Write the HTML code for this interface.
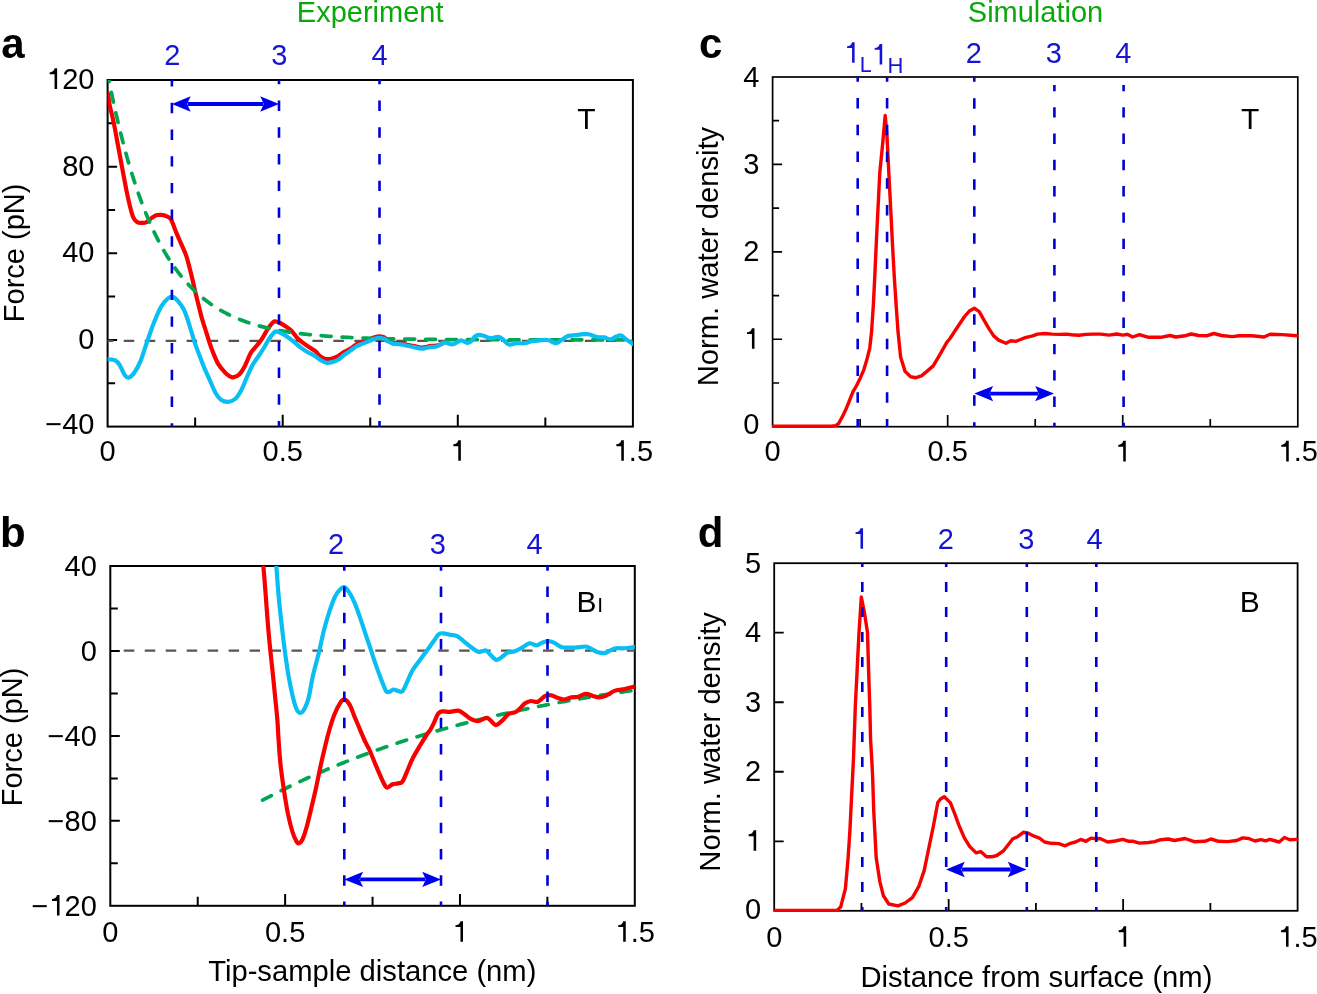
<!DOCTYPE html><html><head><meta charset="utf-8"><style>html,body{margin:0;padding:0;background:#fff;overflow:hidden}svg{display:block;will-change:transform}</style></head><body>
<svg width="1317" height="994" viewBox="0 0 1317 994" font-family='"Liberation Sans", sans-serif'>
<rect width="1317" height="994" fill="#fff"/>
<defs>
<clipPath id="clipa"><rect x="107.6" y="80" width="525.3" height="346.6"/></clipPath>
<clipPath id="clipb"><rect x="110.3" y="566" width="524.5" height="339.8"/></clipPath>
<clipPath id="clipc"><rect x="772.6" y="77" width="525.2" height="349.7"/></clipPath>
<clipPath id="clipd"><rect x="774.2" y="563.2" width="523.4" height="347.6"/></clipPath>
</defs>
<text x="370.2" y="21.7" font-size="29" fill="#0aa80a" text-anchor="middle">Experiment</text>
<text x="1035.5" y="21.6" font-size="29" fill="#0aa80a" text-anchor="middle">Simulation</text>
<g font-size="42" font-weight="bold" fill="#000">
<text x="1.2" y="57.6">a</text>
<text x="0" y="547.4">b</text>
<text x="699.1" y="57.7">c</text>
<text x="697.8" y="547.4">d</text>
</g>
<path d="M282.7,426.6V414.8 M457.8,426.6V414.8 M195.15,426.6V417.6 M370.25,426.6V417.6 M545.35,426.6V417.6 M107.6,339.95H117.1 M107.6,253.3H117.1 M107.6,166.65H117.1 M107.6,383.28H115.1 M107.6,296.62H115.1 M107.6,209.98H115.1 M107.6,123.32H115.1" stroke="#000" stroke-width="2.0" fill="none"/>
<rect x="107.6" y="80" width="525.3" height="346.6" stroke="#000" stroke-width="2.0" fill="none"/>
<g font-size="29" fill="#000">
<text x="45.21" y="434.05">−40</text>
<text x="78.27" y="348.85">0</text>
<text x="62.14" y="262.2">40</text>
<text x="62.14" y="175.55">80</text>
<text x="46.01" y="88.9"> 20</text>
<path d="M383 0L295 0L295 505L124 505L124 569C214 574 272 606 297 709L383 709Z" transform="translate(46.01,88.9) scale(0.0290,-0.0290)"/>
<text x="99.54" y="460.8">0</text>
<text x="262.54" y="460.8">0.5</text>
<path d="M383 0L295 0L295 505L124 505L124 569C214 574 272 606 297 709L383 709Z" transform="translate(449.74,460.8) scale(0.0290,-0.0290)"/>
<text x="612.74" y="460.8"> .5</text>
<path d="M383 0L295 0L295 505L124 505L124 569C214 574 272 606 297 709L383 709Z" transform="translate(612.74,460.8) scale(0.0290,-0.0290)"/>
</g>
<path d="M285.13,905.8V894 M459.97,905.8V894 M197.72,905.8V896.8 M372.55,905.8V896.8 M547.38,905.8V896.8 M110.3,820.85H119.8 M110.3,735.9H119.8 M110.3,650.95H119.8 M110.3,863.32H117.8 M110.3,778.38H117.8 M110.3,693.42H117.8 M110.3,608.48H117.8" stroke="#000" stroke-width="2.0" fill="none"/>
<rect x="110.3" y="566" width="524.5" height="339.8" stroke="#000" stroke-width="2.0" fill="none"/>
<g font-size="29" fill="#000">
<text x="31.48" y="915.6">− 20</text>
<path d="M383 0L295 0L295 505L124 505L124 569C214 574 272 606 297 709L383 709Z" transform="translate(48.41,915.6) scale(0.0290,-0.0290)"/>
<text x="47.61" y="830.65">−80</text>
<text x="47.61" y="745.7">−40</text>
<text x="80.67" y="660.75">0</text>
<text x="64.54" y="575.8">40</text>
<text x="102.24" y="941.7">0</text>
<text x="264.98" y="941.7">0.5</text>
<path d="M383 0L295 0L295 505L124 505L124 569C214 574 272 606 297 709L383 709Z" transform="translate(451.9,941.7) scale(0.0290,-0.0290)"/>
<text x="614.64" y="941.7"> .5</text>
<path d="M383 0L295 0L295 505L124 505L124 569C214 574 272 606 297 709L383 709Z" transform="translate(614.64,941.7) scale(0.0290,-0.0290)"/>
</g>
<path d="M947.67,426.7V414.9 M1122.73,426.7V414.9 M860.13,426.7V418.9 M1035.2,426.7V418.9 M1210.27,426.7V418.9 M772.6,339.27H782.1 M772.6,251.85H782.1 M772.6,164.43H782.1 M772.6,382.99H779.1 M772.6,295.56H779.1 M772.6,208.14H779.1 M772.6,120.71H779.1" stroke="#000" stroke-width="1.7" fill="none"/>
<rect x="772.6" y="77" width="525.2" height="349.7" stroke="#000" stroke-width="1.7" fill="none"/>
<g font-size="29" fill="#000">
<text x="743.37" y="434.35">0</text>
<path d="M383 0L295 0L295 505L124 505L124 569C214 574 272 606 297 709L383 709Z" transform="translate(743.37,348.77) scale(0.0290,-0.0290)"/>
<text x="743.37" y="261.35">2</text>
<text x="743.37" y="173.93">3</text>
<text x="743.37" y="86.5">4</text>
<text x="764.54" y="461.4">0</text>
<text x="927.51" y="461.4">0.5</text>
<path d="M383 0L295 0L295 505L124 505L124 569C214 574 272 606 297 709L383 709Z" transform="translate(1114.67,461.4) scale(0.0290,-0.0290)"/>
<text x="1277.64" y="461.4"> .5</text>
<path d="M383 0L295 0L295 505L124 505L124 569C214 574 272 606 297 709L383 709Z" transform="translate(1277.64,461.4) scale(0.0290,-0.0290)"/>
</g>
<path d="M948.67,910.8V899 M1123.13,910.8V899 M861.43,910.8V903 M1035.9,910.8V903 M1210.37,910.8V903 M774.2,841.28H783.7 M774.2,771.76H783.7 M774.2,702.24H783.7 M774.2,632.72H783.7" stroke="#000" stroke-width="1.8" fill="none"/>
<rect x="774.2" y="563.2" width="523.4" height="347.6" stroke="#000" stroke-width="1.8" fill="none"/>
<g font-size="29" fill="#000">
<text x="745.07" y="919.25">0</text>
<path d="M383 0L295 0L295 505L124 505L124 569C214 574 272 606 297 709L383 709Z" transform="translate(745.07,850.78) scale(0.0290,-0.0290)"/>
<text x="745.07" y="781.26">2</text>
<text x="745.07" y="711.74">3</text>
<text x="745.07" y="642.22">4</text>
<text x="745.07" y="572.7">5</text>
<text x="766.14" y="946.8">0</text>
<text x="928.51" y="946.8">0.5</text>
<path d="M383 0L295 0L295 505L124 505L124 569C214 574 272 606 297 709L383 709Z" transform="translate(1115.07,946.8) scale(0.0290,-0.0290)"/>
<text x="1277.44" y="946.8"> .5</text>
<path d="M383 0L295 0L295 505L124 505L124 569C214 574 272 606 297 709L383 709Z" transform="translate(1277.44,946.8) scale(0.0290,-0.0290)"/>
</g>
<path d="M107.6,340.8H113.3 M123.76,340.8H134.26 M144.72,340.8H155.22 M165.68,340.8H176.18 M186.64,340.8H197.14 M207.6,340.8H218.1 M228.56,340.8H239.06 M249.52,340.8H260.02 M270.48,340.8H280.98 M291.44,340.8H301.94 M312.4,340.8H322.9 M333.36,340.8H343.86 M354.32,340.8H364.82 M375.28,340.8H385.78 M396.24,340.8H406.74 M417.2,340.8H427.7 M438.16,340.8H448.66 M459.12,340.8H469.62 M480.08,340.8H490.58 M501.04,340.8H511.54 M522,340.8H532.5 M542.96,340.8H553.46 M563.92,340.8H574.42 M584.88,340.8H595.38 M605.84,340.8H616.34 M626.8,340.8H632.9" stroke="#5e524e" stroke-width="2.2" fill="none"/>
<path d="M107.8,93 C108.12,95.05 108.98,101.57 109.7,105.3 C110.42,109.03 111.3,111.83 112.1,115.4 C112.9,118.97 113.7,122.67 114.5,126.7 C115.3,130.73 116.1,135.32 116.9,139.6 C117.7,143.88 118.5,148.12 119.3,152.4 C120.1,156.68 120.9,161 121.7,165.3 C122.5,169.6 123.28,173.9 124.1,178.2 C124.92,182.5 125.65,186.53 126.6,191.1 C127.55,195.67 128.73,201.32 129.8,205.6 C130.87,209.88 131.8,214.07 133,216.8 C134.2,219.53 135.52,220.98 137,222 C138.48,223.02 140.28,222.88 141.9,222.9 C143.52,222.92 145.1,222.9 146.7,222.1 C148.3,221.3 149.9,219.25 151.5,218.1 C153.1,216.95 154.68,215.73 156.3,215.2 C157.92,214.67 159.58,214.77 161.2,214.9 C162.82,215.03 164.4,215.28 166,216 C167.6,216.72 169.07,216.38 170.8,219.2 C172.53,222.02 174.65,228.75 176.4,232.9 C178.15,237.05 179.68,240.35 181.3,244.1 C182.92,247.85 184.77,251.63 186.1,255.4 C187.43,259.17 188.23,262.67 189.3,266.7 C190.37,270.73 191.55,275.58 192.5,279.6 C193.45,283.62 194.05,286.78 195,290.8 C195.95,294.82 197.13,299.4 198.2,303.7 C199.27,308 200.2,312.3 201.4,316.6 C202.6,320.9 204.07,325.22 205.4,329.5 C206.73,333.78 208.05,338.28 209.4,342.3 C210.75,346.32 212.02,349.97 213.5,353.6 C214.98,357.23 216.43,361.02 218.3,364.1 C220.17,367.18 222.92,370.15 224.7,372.1 C226.48,374.05 227.62,374.93 229,375.8 C230.38,376.67 231.3,377.52 233,377.3 C234.7,377.08 237.22,376.4 239.2,374.5 C241.18,372.6 243,369.45 244.9,365.9 C246.8,362.35 248.72,356.48 250.6,353.2 C252.48,349.92 254.33,348.53 256.2,346.2 C258.07,343.87 259.92,342.02 261.8,339.2 C263.68,336.38 265.62,332.12 267.5,329.3 C269.38,326.48 271.7,323.6 273.1,322.3 C274.5,321 274.73,321.38 275.9,321.5 C277.07,321.62 278.45,322.17 280.1,323 C281.75,323.83 283.92,325.22 285.8,326.5 C287.68,327.78 289.53,328.83 291.4,330.7 C293.27,332.57 295.12,335.7 297,337.7 C298.88,339.7 300.58,341.05 302.7,342.7 C304.82,344.35 307.58,346.2 309.7,347.6 C311.82,349 313.68,349.68 315.4,351.1 C317.12,352.52 318.23,354.77 320,356.1 C321.77,357.43 323.97,358.7 326,359.1 C328.03,359.5 330.17,359 332.2,358.5 C334.23,358 336.18,357.2 338.2,356.1 C340.22,355 342.27,353.14 344.3,351.89 C346.33,350.64 348.37,349.86 350.4,348.6 C352.43,347.34 354.48,345.47 356.5,344.3 C358.52,343.13 360.48,342.42 362.5,341.6 C364.52,340.78 366.57,340.13 368.6,339.4 C370.63,338.67 372.98,337.72 374.7,337.2 C376.42,336.68 377.38,336.3 378.9,336.3 C380.42,336.3 382.48,336.7 383.8,337.2 C385.12,337.7 385.28,338.4 386.8,339.3 C388.32,340.2 390.52,341.92 392.9,342.6 C395.28,343.28 398.72,343.05 401.1,343.4 C403.48,343.75 405.18,344.28 407.2,344.7 C409.22,345.12 411.18,345.45 413.2,345.9 C415.22,346.35 417.78,347.1 419.3,347.4 C420.82,347.7 421.28,347.75 422.3,347.7 C423.32,347.65 423.87,347.4 425.4,347.1 C426.93,346.8 429.68,346.15 431.5,345.9 C433.32,345.65 434.78,345.85 436.3,345.6 C437.82,345.35 439.38,344.9 440.6,344.4 C441.82,343.9 443.1,342.9 443.6,342.6" stroke="#f80000" stroke-width="4.2" fill="none" stroke-linejoin="round" stroke-linecap="round" clip-path="url(#clipa)" />
<path d="M106,65.07 L107,70.36 L108,75.55 L109,80.63 L110,85.62 L111,90.52 L112,95.32 L113,100.03 L114,104.64 L115,109.17 L116,113.61 L117,117.97 L118,122.24 L119,126.43 L120,130.54 L121,134.57 L122,138.52 L123,142.4 L124,146.2 L125,149.93 L126,153.59 L127,157.17 L128,160.69 L129,164.14 L130,167.52 L131,170.84 L132,174.09 L133,177.29 L134,180.42 L135,183.49 L136,186.5 L137,189.45 L138,192.34 L139,195.19 L140,197.97 L141,200.7 L142,203.38 L143,206.01 L144,208.59 L145,211.11 L146,213.59 L147,216.02 L148,218.41 L149,220.75 L150,223.04 L151,225.29 L152,227.5 L153,229.66 L154,231.78 L155,233.86 L156,235.9 L157,237.91 L158,239.87 L159,241.8 L160,243.68 L161,245.54 L162,247.35 L163,249.13 L164,250.88 L165,252.59 L166,254.27 L167,255.92 L168,257.54 L169,259.12 L170,260.68 L171,262.2 L172,263.7 L173,265.17 L174,266.6 L175,268.02 L176,269.4 L177,270.76 L178,272.09 L179,273.39 L180,274.67 L181,275.93 L182,277.16 L183,278.37 L184,279.55 L185,280.71 L186,281.85 L187,282.97 L188,284.07 L189,285.14 L190,286.19 L191,287.23 L192,288.24 L193,289.24 L194,290.21 L195,291.17 L196,292.11 L197,293.03 L198,293.93 L199,294.81 L200,295.68 L201,296.53 L202,297.37 L203,298.19 L204,298.99 L205,299.78 L206,300.55 L207,301.31 L208,302.05 L209,302.78 L210,303.49 L211,304.19 L212,304.88 L213,305.55 L214,306.22 L215,306.86 L216,307.5 L217,308.12 L218,308.74 L219,309.33 L220,309.92 L221,310.5 L222,311.07 L223,311.62 L224,312.17 L225,312.7 L226,313.22 L227,313.74 L228,314.24 L229,314.73 L230,315.22 L231,315.69 L232,316.16 L233,316.62 L234,317.06 L235,317.5 L236,317.94 L237,318.36 L238,318.77 L239,319.18 L240,319.58 L241,319.97 L242,320.35 L243,320.73 L244,321.1 L245,321.46 L246,321.82 L247,322.16 L248,322.5 L249,322.84 L250,323.17 L251,323.49 L252,323.81 L253,324.12 L254,324.42 L255,324.72 L256,325.01 L257,325.3 L258,325.58 L259,325.85 L260,326.12 L261,326.39 L262,326.65 L263,326.9 L264,327.15 L265,327.4 L266,327.64 L267,327.88 L268,328.11 L269,328.33 L270,328.56 L271,328.78 L272,328.99 L273,329.2 L274,329.41 L275,329.61 L276,329.81 L277,330 L278,330.19 L279,330.38 L280,330.56 L281,330.74 L282,330.92 L283,331.09 L284,331.26 L285,331.43 L286,331.59 L287,331.75 L288,331.91 L289,332.06 L290,332.21 L291,332.36 L292,332.5 L293,332.65 L294,332.79 L295,332.92 L296,333.06 L297,333.19 L298,333.32 L299,333.44 L300,333.57 L301,333.69 L302,333.81 L303,333.93 L304,334.04 L305,334.15 L306,334.27 L307,334.37 L308,334.48 L309,334.58 L310,334.69 L311,334.79 L312,334.89 L313,334.98 L314,335.08 L315,335.17 L316,335.26 L317,335.35 L318,335.44 L319,335.52 L320,335.61 L321,335.69 L322,335.77 L323,335.85 L324,335.93 L325,336.01 L326,336.08 L327,336.15 L328,336.23 L329,336.3 L330,336.37 L331,336.43 L332,336.5 L333,336.57 L334,336.63 L335,336.69 L336,336.76 L337,336.82 L338,336.87 L339,336.93 L340,336.99 L341,337.05 L342,337.1 L343,337.16 L344,337.21 L345,337.26 L346,337.31 L347,337.36 L348,337.41 L349,337.46 L350,337.5 L351,337.55 L352,337.6 L353,337.64 L354,337.68 L355,337.73 L356,337.77 L357,337.81 L358,337.85 L359,337.89 L360,337.93 L361,337.97 L362,338 L363,338.04 L364,338.07 L365,338.11 L366,338.14 L367,338.18 L368,338.21 L369,338.24 L370,338.28 L371,338.31 L372,338.34 L373,338.37 L374,338.4 L375,338.43 L376,338.45 L377,338.48 L378,338.51 L379,338.54 L380,338.56 L381,338.59 L382,338.61 L383,338.64 L384,338.66 L385,338.69 L386,338.71 L387,338.73 L388,338.76 L389,338.78 L390,338.8 L391,338.82 L392,338.84 L393,338.86 L394,338.88 L395,338.9 L396,338.92 L397,338.94 L398,338.96 L399,338.98 L400,338.99 L401,339.01 L402,339.03 L403,339.04 L404,339.06 L405,339.08 L406,339.09 L407,339.11 L408,339.12 L409,339.14 L410,339.15 L411,339.17 L412,339.18 L413,339.2 L414,339.21 L415,339.22 L416,339.24 L417,339.25 L418,339.26 L419,339.27 L420,339.29 L421,339.3 L422,339.31 L423,339.32 L424,339.33 L425,339.34 L426,339.35 L427,339.36 L428,339.37 L429,339.38 L430,339.39 L431,339.4 L432,339.41 L433,339.42 L434,339.43 L435,339.44 L436,339.45 L437,339.46 L438,339.47 L439,339.48 L440,339.48 L441,339.49 L442,339.5 L443,339.51 L444,339.51 L445,339.52 L446,339.53 L447,339.54 L448,339.54 L449,339.55 L450,339.56 L451,339.56 L452,339.57 L453,339.58 L454,339.58 L455,339.59 L456,339.59 L457,339.6 L458,339.61 L459,339.61 L460,339.62 L461,339.62 L462,339.63 L463,339.63 L464,339.64 L465,339.64 L466,339.65 L467,339.65 L468,339.66 L469,339.66 L470,339.67 L471,339.67 L472,339.68 L473,339.68 L474,339.68 L475,339.69 L476,339.69 L477,339.7 L478,339.7 L479,339.7 L480,339.71 L481,339.71 L482,339.72 L483,339.72 L484,339.72 L485,339.73 L486,339.73 L487,339.73 L488,339.74 L489,339.74 L490,339.74 L491,339.75 L492,339.75 L493,339.75 L494,339.75 L495,339.76 L496,339.76 L497,339.76 L498,339.77 L499,339.77 L500,339.77 L501,339.77 L502,339.78 L503,339.78 L504,339.78 L505,339.78 L506,339.78 L507,339.79 L508,339.79 L509,339.79 L510,339.79 L511,339.8 L512,339.8 L513,339.8 L514,339.8 L515,339.8 L516,339.8 L517,339.81 L518,339.81 L519,339.81 L520,339.81 L521,339.81 L522,339.82 L523,339.82 L524,339.82 L525,339.82 L526,339.82 L527,339.82 L528,339.82 L529,339.83 L530,339.83 L531,339.83 L532,339.83 L533,339.83 L534,339.83 L535,339.83 L536,339.84 L537,339.84 L538,339.84 L539,339.84 L540,339.84 L541,339.84 L542,339.84 L543,339.84 L544,339.84 L545,339.85 L546,339.85 L547,339.85 L548,339.85 L549,339.85 L550,339.85 L551,339.85 L552,339.85 L553,339.85 L554,339.85 L555,339.86 L556,339.86 L557,339.86 L558,339.86 L559,339.86 L560,339.86 L561,339.86 L562,339.86 L563,339.86 L564,339.86 L565,339.86 L566,339.86 L567,339.86 L568,339.87 L569,339.87 L570,339.87 L571,339.87 L572,339.87 L573,339.87 L574,339.87 L575,339.87 L576,339.87 L577,339.87 L578,339.87 L579,339.87 L580,339.87 L581,339.87 L582,339.87 L583,339.87 L584,339.87 L585,339.88 L586,339.88 L587,339.88 L588,339.88 L589,339.88 L590,339.88 L591,339.88 L592,339.88 L593,339.88 L594,339.88 L595,339.88 L596,339.88 L597,339.88 L598,339.88 L599,339.88 L600,339.88 L601,339.88 L602,339.88 L603,339.88 L604,339.88 L605,339.88 L606,339.88 L607,339.88 L608,339.88 L609,339.88 L610,339.88 L611,339.88 L612,339.89 L613,339.89 L614,339.89 L615,339.89 L616,339.89 L617,339.89 L618,339.89 L619,339.89 L620,339.89 L621,339.89 L622,339.89 L623,339.89 L624,339.89 L625,339.89 L626,339.89 L627,339.89 L628,339.89 L629,339.89 L630,339.89 L631,339.89 L632,339.89 L633,339.89 L634,339.89" stroke="#00a651" stroke-width="3.7" fill="none" stroke-dasharray="9.9 11" stroke-dashoffset="13.96" stroke-linecap="round" stroke-linejoin="round" clip-path="url(#clipa)"/>
<path d="M107,359.1 C108.38,359.32 113.12,359.28 115.3,360.4 C117.48,361.52 118.5,363.32 120.1,365.8 C121.7,368.28 123.47,373.33 124.9,375.3 C126.33,377.27 127.12,378.08 128.7,377.6 C130.28,377.12 132.48,375.02 134.4,372.4 C136.32,369.78 138.13,366.83 140.2,361.9 C142.27,356.97 144.58,349.17 146.8,342.8 C149.02,336.43 151.1,329.75 153.5,323.7 C155.9,317.65 158.8,310.7 161.2,306.5 C163.6,302.3 165.98,300.1 167.9,298.5 C169.82,296.9 171.02,296.45 172.7,296.9 C174.38,297.35 176.17,299.13 178,301.2 C179.83,303.27 182.08,306.2 183.7,309.3 C185.32,312.4 186.37,315.9 187.7,319.8 C189.03,323.7 190.35,328.4 191.7,332.7 C193.05,337 194.32,341.32 195.8,345.6 C197.28,349.88 199.07,354.42 200.6,358.4 C202.13,362.38 203.48,365.9 205,369.5 C206.52,373.1 207.97,376.13 209.7,380 C211.43,383.87 213.52,389.42 215.4,392.7 C217.28,395.98 218.9,398.18 221,399.7 C223.1,401.22 225.65,401.92 228,401.8 C230.35,401.68 232.98,400.75 235.1,399 C237.22,397.25 238.83,394.7 240.7,391.3 C242.57,387.9 244.42,382.83 246.3,378.6 C248.18,374.37 250.12,369.42 252,365.9 C253.88,362.38 255.73,360.32 257.6,357.5 C259.47,354.68 261.32,352.05 263.2,349 C265.08,345.95 267.02,342.02 268.9,339.2 C270.78,336.38 273.1,333.33 274.5,332.1 C275.9,330.87 275.88,331.45 277.3,331.8 C278.72,332.15 281.12,333.22 283,334.2 C284.88,335.18 286.73,336.4 288.6,337.7 C290.47,339 292.32,340.47 294.2,342 C296.08,343.53 297.78,345.27 299.9,346.9 C302.02,348.53 304.55,350.38 306.9,351.8 C309.25,353.22 311.82,354.08 314,355.4 C316.18,356.72 318,358.48 320,359.7 C322,360.92 323.97,362.3 326,362.7 C328.03,363.1 330.17,362.6 332.2,362.1 C334.23,361.6 336.18,360.92 338.2,359.7 C340.22,358.48 342.27,356.32 344.3,354.8 C346.33,353.28 348.37,352.02 350.4,350.6 C352.43,349.18 354.48,347.47 356.5,346.3 C358.52,345.13 360.48,344.42 362.5,343.6 C364.52,342.78 366.57,342.22 368.6,341.4 C370.63,340.58 372.98,339.3 374.7,338.7 C376.42,338.1 377.38,337.8 378.9,337.8 C380.42,337.8 382.48,338.2 383.8,338.7 C385.12,339.2 385.28,339.98 386.8,340.8 C388.32,341.62 390.52,343 392.9,343.6 C395.28,344.2 398.72,344.05 401.1,344.4 C403.48,344.75 405.18,345.28 407.2,345.7 C409.22,346.12 411.18,346.45 413.2,346.9 C415.22,347.35 417.78,348.1 419.3,348.4 C420.82,348.7 421.28,348.75 422.3,348.7 C423.32,348.65 423.87,348.4 425.4,348.1 C426.93,347.8 429.68,347.15 431.5,346.9 C433.32,346.65 434.78,347.02 436.3,346.6 C437.82,346.18 439.38,345.07 440.6,344.4 C441.82,343.73 442.6,342.85 443.6,342.6 C444.6,342.35 445.08,342.6 446.6,342.9 C448.12,343.2 450.67,344.65 452.7,344.4 C454.73,344.15 457.28,342.05 458.8,341.4 C460.32,340.75 460.28,340.25 461.8,340.5 C463.32,340.75 466.17,342.95 467.9,342.9 C469.63,342.85 471.02,341.27 472.2,340.2 C473.38,339.13 473.87,337.4 475,336.5 C476.13,335.6 477.47,334.87 479,334.8 C480.53,334.73 482.27,335.55 484.2,336.1 C486.13,336.65 488.23,337.98 490.6,338.1 C492.97,338.22 496.25,336.48 498.4,336.8 C500.55,337.12 501.78,338.72 503.5,340 C505.22,341.28 506.53,343.97 508.7,344.5 C510.87,345.03 513.92,343.42 516.5,343.2 C519.08,342.98 521.63,343.52 524.2,343.2 C526.77,342.88 529.32,341.78 531.9,341.3 C534.48,340.82 537.12,340.52 539.7,340.3 C542.28,340.08 545.25,339.73 547.4,340 C549.55,340.27 551.08,341.37 552.6,341.9 C554.12,342.43 555,343.52 556.5,343.2 C558,342.88 559.67,341.18 561.6,340 C563.53,338.82 565.73,336.92 568.1,336.1 C570.47,335.28 573.23,335.42 575.8,335.1 C578.37,334.78 581.35,334.35 583.5,334.2 C585.65,334.05 586.97,333.88 588.7,334.2 C590.43,334.52 592.18,335.57 593.9,336.1 C595.62,336.63 597.28,337.18 599,337.4 C600.72,337.62 602.27,337.07 604.2,337.4 C606.13,337.73 608.67,339.5 610.6,339.4 C612.53,339.3 614.07,337.45 615.8,336.8 C617.53,336.15 619.28,335.07 621,335.5 C622.72,335.93 624.02,337.93 626.1,339.4 C628.18,340.87 632.27,343.48 633.5,344.3" stroke="#08bef2" stroke-width="4.2" fill="none" stroke-linejoin="round" stroke-linecap="round" clip-path="url(#clipa)" />
<path d="M123.8,650.6H134.3 M144.76,650.6H155.26 M165.72,650.6H176.22 M186.68,650.6H197.18 M207.64,650.6H218.14 M228.6,650.6H239.1 M249.56,650.6H260.06 M270.52,650.6H281.02 M291.48,650.6H301.98 M312.44,650.6H322.94 M333.4,650.6H343.9 M354.36,650.6H364.86 M375.32,650.6H385.82 M396.28,650.6H406.78 M417.24,650.6H427.74 M438.2,650.6H448.7 M459.16,650.6H469.66 M480.12,650.6H490.62 M501.08,650.6H511.58 M522.04,650.6H532.54 M543,650.6H553.5 M563.96,650.6H574.46 M584.92,650.6H595.42 M605.88,650.6H616.38 M626.84,650.6H634.8" stroke="#5e524e" stroke-width="2.2" fill="none"/>
<path d="M261.5,800.81 L263.5,799.74 L265.5,798.68 L267.5,797.63 L269.5,796.58 L271.5,795.54 L273.5,794.51 L275.5,793.48 L277.5,792.47 L279.5,791.46 L281.5,790.46 L283.5,789.46 L285.5,788.47 L287.5,787.49 L289.5,786.52 L291.5,785.55 L293.5,784.59 L295.5,783.63 L297.5,782.69 L299.5,781.75 L301.5,780.81 L303.5,779.89 L305.5,778.97 L307.5,778.05 L309.5,777.15 L311.5,776.25 L313.5,775.35 L315.5,774.46 L317.5,773.58 L319.5,772.71 L321.5,771.84 L323.5,770.97 L325.5,770.12 L327.5,769.27 L329.5,768.42 L331.5,767.58 L333.5,766.75 L335.5,765.92 L337.5,765.1 L339.5,764.29 L341.5,763.48 L343.5,762.68 L345.5,761.88 L347.5,761.09 L349.5,760.3 L351.5,759.52 L353.5,758.74 L355.5,757.97 L357.5,757.21 L359.5,756.45 L361.5,755.7 L363.5,754.95 L365.5,754.21 L367.5,753.47 L369.5,752.74 L371.5,752.01 L373.5,751.29 L375.5,750.57 L377.5,749.86 L379.5,749.15 L381.5,748.45 L383.5,747.76 L385.5,747.07 L387.5,746.38 L389.5,745.7 L391.5,745.02 L393.5,744.35 L395.5,743.68 L397.5,743.02 L399.5,742.36 L401.5,741.71 L403.5,741.06 L405.5,740.42 L407.5,739.78 L409.5,739.14 L411.5,738.51 L413.5,737.89 L415.5,737.26 L417.5,736.65 L419.5,736.03 L421.5,735.43 L423.5,734.82 L425.5,734.22 L427.5,733.63 L429.5,733.04 L431.5,732.45 L433.5,731.87 L435.5,731.29 L437.5,730.72 L439.5,730.15 L441.5,729.58 L443.5,729.02 L445.5,728.46 L447.5,727.9 L449.5,727.35 L451.5,726.81 L453.5,726.27 L455.5,725.73 L457.5,725.19 L459.5,724.66 L461.5,724.13 L463.5,723.61 L465.5,723.09 L467.5,722.58 L469.5,722.06 L471.5,721.55 L473.5,721.05 L475.5,720.55 L477.5,720.05 L479.5,719.56 L481.5,719.07 L483.5,718.58 L485.5,718.09 L487.5,717.61 L489.5,717.14 L491.5,716.66 L493.5,716.19 L495.5,715.73 L497.5,715.26 L499.5,714.8 L501.5,714.35 L503.5,713.89 L505.5,713.44 L507.5,712.99 L509.5,712.55 L511.5,712.11 L513.5,711.67 L515.5,711.24 L517.5,710.8 L519.5,710.38 L521.5,709.95 L523.5,709.53 L525.5,709.11 L527.5,708.69 L529.5,708.28 L531.5,707.87 L533.5,707.46 L535.5,707.06 L537.5,706.65 L539.5,706.26 L541.5,705.86 L543.5,705.47 L545.5,705.08 L547.5,704.69 L549.5,704.3 L551.5,703.92 L553.5,703.54 L555.5,703.16 L557.5,702.79 L559.5,702.42 L561.5,702.05 L563.5,701.68 L565.5,701.32 L567.5,700.96 L569.5,700.6 L571.5,700.24 L573.5,699.89 L575.5,699.54 L577.5,699.19 L579.5,698.85 L581.5,698.5 L583.5,698.16 L585.5,697.82 L587.5,697.49 L589.5,697.15 L591.5,696.82 L593.5,696.49 L595.5,696.17 L597.5,695.84 L599.5,695.52 L601.5,695.2 L603.5,694.88 L605.5,694.57 L607.5,694.26 L609.5,693.94 L611.5,693.64 L613.5,693.33 L615.5,693.03 L617.5,692.72 L619.5,692.42 L621.5,692.13 L623.5,691.83 L625.5,691.54 L627.5,691.25 L629.5,690.96 L631.5,690.67 L633.5,690.38 L635.5,690.1" stroke="#00a651" stroke-width="3.7" fill="none" stroke-dasharray="9.9 11" stroke-dashoffset="19.66" stroke-linecap="round" stroke-linejoin="round" clip-path="url(#clipb)"/>
<path d="M262.4,555 C262.57,556.9 262.88,560.2 263.4,566.4 C263.92,572.6 264.75,582.55 265.5,592.2 C266.25,601.85 267.1,614.65 267.9,624.3 C268.7,633.95 269.5,642.05 270.3,650.1 C271.1,658.15 271.9,664.83 272.7,672.6 C273.5,680.37 274.33,688.97 275.1,696.7 C275.87,704.43 276.72,711.78 277.3,719 C277.88,726.22 278.07,732.43 278.6,740 C279.13,747.57 279.65,756.32 280.5,764.4 C281.35,772.48 282.5,780.47 283.7,788.5 C284.9,796.53 286.23,805.35 287.7,812.6 C289.17,819.85 291.02,827.17 292.5,832 C293.98,836.83 295.52,839.73 296.6,841.6 C297.68,843.47 298.07,843.47 299,843.2 C299.93,842.93 301,842.42 302.2,840 C303.4,837.58 304.73,833.8 306.2,828.7 C307.67,823.6 309.38,816.1 311,809.4 C312.62,802.7 314.42,795.2 315.9,788.5 C317.38,781.8 318.57,775.37 319.9,769.2 C321.23,763.03 322.43,757.67 323.9,751.5 C325.37,745.33 326.95,738.37 328.7,732.2 C330.45,726.03 332.45,719.43 334.4,714.5 C336.35,709.57 338.72,705.12 340.4,702.6 C342.08,700.08 342.95,699.02 344.5,699.4 C346.05,699.78 348.03,702.03 349.7,704.9 C351.37,707.77 352.8,712.53 354.5,716.6 C356.2,720.67 358.1,725.08 359.9,729.3 C361.7,733.52 363.7,738.45 365.3,741.9 C366.9,745.35 367.68,745.95 369.5,750 C371.32,754.05 373.88,760.78 376.2,766.2 C378.52,771.62 381.58,778.93 383.4,782.5 C385.22,786.07 385.58,787.3 387.1,787.6 C388.62,787.9 390.7,785 392.5,784.3 C394.3,783.6 396.25,783.85 397.9,783.4 C399.55,782.95 400.88,783.57 402.4,781.6 C403.92,779.63 405.33,775.37 407,771.6 C408.67,767.83 410.3,763.22 412.4,759 C414.5,754.78 417.18,750.38 419.6,746.3 C422.02,742.22 425.08,737.3 426.9,734.5 C428.72,731.7 429.32,731.47 430.5,729.5 C431.68,727.53 432.73,725.32 434,722.7 C435.27,720.08 436.75,715.68 438.1,713.8 C439.45,711.92 440.1,711.73 442.1,711.4 C444.1,711.07 447.42,711.93 450.1,711.8 C452.78,711.67 455.92,710.27 458.2,710.6 C460.48,710.93 461.78,712.47 463.8,713.8 C465.82,715.13 467.88,717.38 470.3,718.6 C472.72,719.82 475.62,721.23 478.3,721.1 C480.98,720.97 484.38,717.93 486.4,717.8 C488.42,717.67 488.8,719.08 490.4,720.3 C492,721.52 493.98,725.1 496,725.1 C498.02,725.1 500.35,722.18 502.5,720.3 C504.65,718.42 506.77,715.15 508.9,713.8 C511.03,712.45 513.42,713.13 515.3,712.2 C517.18,711.27 518.58,709.68 520.2,708.2 C521.82,706.72 523.23,704.5 525,703.3 C526.77,702.1 528.63,701.27 530.8,701 C532.97,700.73 535.6,702.55 538,701.7 C540.4,700.85 543.03,696.98 545.2,695.9 C547.37,694.82 548.83,694.83 551,695.2 C553.17,695.57 556.03,697.38 558.2,698.1 C560.37,698.82 561.83,699.62 564,699.5 C566.17,699.38 568.8,697.87 571.2,697.4 C573.6,696.93 576,697.3 578.4,696.7 C580.8,696.1 583.2,693.93 585.6,693.8 C588,693.67 590.63,695.3 592.8,695.9 C594.97,696.5 596.43,697.4 598.6,697.4 C600.77,697.4 603.15,696.98 605.8,695.9 C608.45,694.82 611.62,691.98 614.5,690.9 C617.38,689.82 619.6,690.15 623.1,689.4 C626.6,688.65 633.43,686.9 635.5,686.4" stroke="#f80000" stroke-width="4.2" fill="none" stroke-linejoin="round" stroke-linecap="round" clip-path="url(#clipb)" />
<path d="M275.6,555 C275.73,556.9 275.95,560.2 276.4,566.4 C276.85,572.6 277.58,583.88 278.3,592.2 C279.02,600.52 279.9,608.8 280.7,616.3 C281.5,623.8 282.28,630.5 283.1,637.2 C283.92,643.9 284.65,649.8 285.6,656.5 C286.55,663.2 287.6,670.7 288.8,677.4 C290,684.1 291.47,691.33 292.8,696.7 C294.13,702.07 295.47,706.92 296.8,709.6 C298.13,712.28 299.45,713.07 300.8,712.8 C302.15,712.53 303.55,710.68 304.9,708 C306.25,705.32 307.57,702.07 308.9,696.7 C310.23,691.33 311.23,683.18 312.9,675.8 C314.57,668.42 317,660.23 318.9,652.4 C320.8,644.57 322.5,635.75 324.3,628.8 C326.1,621.85 327.88,616.13 329.7,610.7 C331.52,605.27 333.38,599.82 335.2,596.2 C337.02,592.58 339.05,590.48 340.6,589 C342.15,587.52 343.1,586.77 344.5,587.3 C345.9,587.83 347.33,589.65 349,592.2 C350.67,594.75 352.68,598.45 354.5,602.6 C356.32,606.75 358.1,611.98 359.9,617.1 C361.7,622.22 363.48,627.88 365.3,633.3 C367.12,638.72 368.98,644.17 370.8,649.6 C372.62,655.03 374.4,660.77 376.2,665.9 C378,671.03 379.93,676.17 381.6,680.4 C383.27,684.63 384.83,689.43 386.2,691.3 C387.57,693.17 388.6,691.9 389.8,691.6 C391,691.3 392.05,689.62 393.4,689.5 C394.75,689.38 396.4,690.6 397.9,690.9 C399.4,691.2 400.88,692.75 402.4,691.3 C403.92,689.85 405.33,685.67 407,682.2 C408.67,678.73 410.3,674.12 412.4,670.5 C414.5,666.88 417.18,663.83 419.6,660.5 C422.02,657.17 424.48,653.82 426.9,650.5 C429.32,647.18 432.15,643.3 434.1,640.6 C436.05,637.9 437.08,635.52 438.6,634.3 C440.12,633.08 441.23,633.22 443.2,633.3 C445.17,633.38 448.07,634.33 450.4,634.8 C452.73,635.27 454.87,634.93 457.2,636.1 C459.53,637.27 462,639.88 464.4,641.8 C466.8,643.72 469.18,645.92 471.6,647.6 C474.02,649.28 476.48,651.42 478.9,651.9 C481.32,652.38 484.18,650.02 486.1,650.5 C488.02,650.98 488.72,653.23 490.4,654.8 C492.08,656.37 494.28,659.53 496.2,659.9 C498.12,660.27 499.98,658.2 501.9,657 C503.82,655.8 505.53,653.67 507.7,652.7 C509.87,651.73 512.5,652.05 514.9,651.2 C517.3,650.35 519.7,648.92 522.1,647.6 C524.5,646.28 526.88,643.67 529.3,643.3 C531.72,642.93 534.43,645.52 536.6,645.4 C538.77,645.28 540.38,643.32 542.3,642.6 C544.22,641.88 546.17,641.1 548.1,641.1 C550.03,641.1 551.73,641.63 553.9,642.6 C556.07,643.57 558.7,646.07 561.1,646.9 C563.5,647.73 565.9,647.48 568.3,647.6 C570.7,647.72 572.62,647.78 575.5,647.6 C578.38,647.42 582.95,646.27 585.6,646.5 C588.25,646.73 589.48,648.1 591.4,649 C593.32,649.9 594.93,651.22 597.1,651.9 C599.27,652.58 602.23,653.33 604.4,653.1 C606.57,652.87 608.18,651.3 610.1,650.5 C612.02,649.7 613.73,648.67 615.9,648.3 C618.07,647.93 619.83,648.53 623.1,648.3 C626.37,648.07 633.43,647.13 635.5,646.9" stroke="#08bef2" stroke-width="4.2" fill="none" stroke-linejoin="round" stroke-linecap="round" clip-path="url(#clipb)" />
<path d="M773.5,426.3 L831,426.3 L835.5,425.6 L838.4,423.8 L842,417.4 L845.6,410.1 L849.3,401 L852.9,391.9 L856.6,385.5 L860.2,378.2 L863.9,369.6 L867.1,358.7 L869.8,347.8 L871.6,331.5 L873.4,304.3 L874.6,280 L876.2,244.9 L878,208.7 L879.8,172.5 L882.5,145.3 L885.2,115.5 L887,136.2 L888.8,172.5 L890.7,208.7 L892.5,244.9 L894.3,277.2 L896.1,304.3 L898,331.5 L900.6,356.9 L905.1,371.4 L910.6,376.8 L916,377.7 L921.4,375.9 L926.9,371.4 L933.2,365.9 L939.6,355.1 L946.8,342.4 L950,338.5 L954.9,331 L959.7,323.7 L964.6,316.5 L969.4,311 L974.3,308.2 L979.2,311.6 L984,320.1 L988.9,328.6 L993.7,335.9 L998.6,340.1 L1005.9,343.2 L1010.8,340.8 L1015.6,341.4 L1020.5,339.5 L1025.3,337.7 L1032.6,335.9 L1037.5,334.1 L1044.8,333.5 L1052.1,334.1 L1059.4,334.4 L1066.6,334.1 L1071.5,334.7 L1078.8,335.3 L1086.1,334.4 L1093.4,334.1 L1100.7,334.1 L1109.1,335.1 L1116.7,334 L1122.8,335.1 L1127.3,334.3 L1132.6,337 L1139.5,334.6 L1148.6,337.3 L1160.7,337.3 L1169.9,335.5 L1175.9,337 L1185,335.8 L1191.1,334 L1198.7,335.5 L1206.3,335.8 L1213.9,333.5 L1221.5,335.5 L1232.1,336.6 L1239.7,335.8 L1251.9,335.8 L1264,337 L1270.1,334.3 L1282.2,334.6 L1297,335.8" stroke="#f80000" stroke-width="3.4" fill="none" stroke-linejoin="round" stroke-linecap="round"  />
<path d="M775.2,910.4 L837.2,910.4 L840.8,906.7 L845.4,888.6 L848.1,857.8 L849.9,830.6 L851.7,794.3 L853.5,758.1 L855.3,706.8 L857.1,670.6 L858.9,634.3 L861.3,597 L864.4,612.6 L867.5,632.5 L868.6,670.6 L869.8,706.8 L870.6,740 L871.8,760 L872.6,776 L873.8,812 L876.2,857.8 L879.8,881.3 L883.4,895.8 L888.8,904 L897.9,905.8 L905.1,903 L912.4,897.6 L918.7,886.7 L924.2,870.4 L928.7,848.7 L933.2,827 L937.8,802.5 L940.5,799 L944.3,796.7 L950.3,802.6 L954.2,812.3 L959.4,826.5 L964.5,838.1 L969.7,846.5 L976.1,852.9 L980.7,851.6 L986.5,856.8 L991.6,856.8 L996.8,855.5 L1003.3,851 L1008.4,844.5 L1012.9,838.7 L1017.4,836.8 L1023.3,832.3 L1027.8,832.9 L1034.2,836.2 L1039.4,838.1 L1044.6,842 L1051,843.3 L1058.8,843.6 L1065.2,845.8 L1070.4,843.3 L1075.5,842 L1080.7,839.4 L1085.9,841.3 L1091,838.1 L1096.2,838.7 L1100,838.5 L1107.6,842 L1115.2,841 L1122.8,839.4 L1128.9,841.3 L1133.4,841.3 L1139.5,843.1 L1148.6,842.5 L1154.7,841.6 L1160.7,839.7 L1168.3,839 L1174.4,840.5 L1185,838.5 L1194.2,841.7 L1204.8,841.3 L1210.9,839 L1218.5,841.3 L1227.6,841.6 L1236.7,840.5 L1242.7,837.9 L1248.8,838.5 L1254.9,841 L1261,839.7 L1265.5,840.8 L1270,839.4 L1279.2,842 L1284.5,837.5 L1289.8,839.7 L1296.8,839.4" stroke="#f80000" stroke-width="3.4" fill="none" stroke-linejoin="round" stroke-linecap="round"  />
<path d="M171.9,80V86.5 M171.9,102.8V113.2 M171.9,129.5V139.9 M171.9,156.2V166.6 M171.9,182.9V193.3 M171.9,209.6V220 M171.9,236.3V246.7 M171.9,263V273.4 M171.9,289.7V300.1 M171.9,316.4V326.8 M171.9,343.1V353.5 M171.9,369.8V380.2 M171.9,396.5V406.9 M171.9,423.2V426.6" stroke="#0000d4" stroke-width="2.6" fill="none"/>
<path d="M279,80V84.3 M279,100.6V111 M279,127.3V137.7 M279,154V164.4 M279,180.7V191.1 M279,207.4V217.8 M279,234.1V244.5 M279,260.8V271.2 M279,287.5V297.9 M279,314.2V324.6 M279,340.9V351.3 M279,367.6V378 M279,394.3V404.7 M279,421V426.6" stroke="#0000d4" stroke-width="2.6" fill="none"/>
<path d="M379.5,80V84.3 M379.5,100.6V111 M379.5,127.3V137.7 M379.5,154V164.4 M379.5,180.7V191.1 M379.5,207.4V217.8 M379.5,234.1V244.5 M379.5,260.8V271.2 M379.5,287.5V297.9 M379.5,314.2V324.6 M379.5,340.9V351.3 M379.5,367.6V378 M379.5,394.3V404.7 M379.5,421V426.6" stroke="#0000d4" stroke-width="2.6" fill="none"/>
<path d="M344.3,566V570.65 M344.3,586.5V596.9 M344.3,612.75V623.15 M344.3,639V649.4 M344.3,665.25V675.65 M344.3,691.5V701.9 M344.3,717.75V728.15 M344.3,744V754.4 M344.3,770.25V780.65 M344.3,796.5V806.9 M344.3,822.75V833.15 M344.3,849V859.4 M344.3,875.25V885.65 M344.3,901.5V905.8" stroke="#0000d4" stroke-width="2.6" fill="none"/>
<path d="M441,566V570.65 M441,586.5V596.9 M441,612.75V623.15 M441,639V649.4 M441,665.25V675.65 M441,691.5V701.9 M441,717.75V728.15 M441,744V754.4 M441,770.25V780.65 M441,796.5V806.9 M441,822.75V833.15 M441,849V859.4 M441,875.25V885.65 M441,901.5V905.8" stroke="#0000d4" stroke-width="2.6" fill="none"/>
<path d="M547.5,566V570.65 M547.5,586.5V596.9 M547.5,612.75V623.15 M547.5,639V649.4 M547.5,665.25V675.65 M547.5,691.5V701.9 M547.5,717.75V728.15 M547.5,744V754.4 M547.5,770.25V780.65 M547.5,796.5V806.9 M547.5,822.75V833.15 M547.5,849V859.4 M547.5,875.25V885.65 M547.5,901.5V905.8" stroke="#0000d4" stroke-width="2.6" fill="none"/>
<path d="M857.7,77V81.7 M857.7,98.05V108.45 M857.7,124.8V135.2 M857.7,151.55V161.95 M857.7,178.3V188.7 M857.7,205.05V215.45 M857.7,231.8V242.2 M857.7,258.55V268.95 M857.7,285.3V295.7 M857.7,312.05V322.45 M857.7,338.8V349.2 M857.7,365.55V375.95 M857.7,392.3V402.7 M857.7,419.05V426.7" stroke="#0000d4" stroke-width="2.6" fill="none"/>
<path d="M887.1,77V81.7 M887.1,98.05V108.45 M887.1,124.8V135.2 M887.1,151.55V161.95 M887.1,178.3V188.7 M887.1,205.05V215.45 M887.1,231.8V242.2 M887.1,258.55V268.95 M887.1,285.3V295.7 M887.1,312.05V322.45 M887.1,338.8V349.2 M887.1,365.55V375.95 M887.1,392.3V402.7 M887.1,419.05V426.7" stroke="#0000d4" stroke-width="2.6" fill="none"/>
<path d="M974.3,77V81.7 M974.3,98.3V108.7 M974.3,125.3V135.7 M974.3,152.3V162.7 M974.3,179.3V189.7 M974.3,206.3V216.7 M974.3,233.3V243.7 M974.3,260.3V270.7 M974.3,287.3V297.7 M974.3,314.3V324.7 M974.3,341.3V351.7 M974.3,368.3V378.7 M974.3,395.3V405.7 M974.3,422.3V426.7" stroke="#0000d4" stroke-width="2.6" fill="none"/>
<path d="M1054.4,85V91.3 M1054.4,107.2V117.6 M1054.4,133.5V143.9 M1054.4,159.8V170.2 M1054.4,186.1V196.5 M1054.4,212.4V222.8 M1054.4,238.7V249.1 M1054.4,265V275.4 M1054.4,291.3V301.7 M1054.4,317.6V328 M1054.4,343.9V354.3 M1054.4,370.2V380.6 M1054.4,396.5V406.9 M1054.4,422.8V426.7" stroke="#0000d4" stroke-width="2.6" fill="none"/>
<path d="M1123.6,85V91.3 M1123.6,107.2V117.6 M1123.6,133.5V143.9 M1123.6,159.8V170.2 M1123.6,186.1V196.5 M1123.6,212.4V222.8 M1123.6,238.7V249.1 M1123.6,265V275.4 M1123.6,291.3V301.7 M1123.6,317.6V328 M1123.6,343.9V354.3 M1123.6,370.2V380.6 M1123.6,396.5V406.9 M1123.6,422.8V426.7" stroke="#0000d4" stroke-width="2.6" fill="none"/>
<path d="M862.3,563.2V567.1 M862.3,582.1V592.1 M862.3,607.1V617.1 M862.3,632.1V642.1 M862.3,657.1V667.1 M862.3,682.1V692.1 M862.3,707.1V717.1 M862.3,732.1V742.1 M862.3,757.1V767.1 M862.3,782.1V792.1 M862.3,807.1V817.1 M862.3,832.1V842.1 M862.3,857.1V867.1 M862.3,882.1V892.1 M862.3,907.1V910.8" stroke="#0000d4" stroke-width="2.6" fill="none"/>
<path d="M946.2,563.2V567.1 M946.2,582.1V592.1 M946.2,607.1V617.1 M946.2,632.1V642.1 M946.2,657.1V667.1 M946.2,682.1V692.1 M946.2,707.1V717.1 M946.2,732.1V742.1 M946.2,757.1V767.1 M946.2,782.1V792.1 M946.2,807.1V817.1 M946.2,832.1V842.1 M946.2,857.1V867.1 M946.2,882.1V892.1 M946.2,907.1V910.8" stroke="#0000d4" stroke-width="2.6" fill="none"/>
<path d="M1026.8,563.2V567.1 M1026.8,582.1V592.1 M1026.8,607.1V617.1 M1026.8,632.1V642.1 M1026.8,657.1V667.1 M1026.8,682.1V692.1 M1026.8,707.1V717.1 M1026.8,732.1V742.1 M1026.8,757.1V767.1 M1026.8,782.1V792.1 M1026.8,807.1V817.1 M1026.8,832.1V842.1 M1026.8,857.1V867.1 M1026.8,882.1V892.1 M1026.8,907.1V910.8" stroke="#0000d4" stroke-width="2.6" fill="none"/>
<path d="M1096.3,563.2V567.1 M1096.3,582.1V592.1 M1096.3,607.1V617.1 M1096.3,632.1V642.1 M1096.3,657.1V667.1 M1096.3,682.1V692.1 M1096.3,707.1V717.1 M1096.3,732.1V742.1 M1096.3,757.1V767.1 M1096.3,782.1V792.1 M1096.3,807.1V817.1 M1096.3,832.1V842.1 M1096.3,857.1V867.1 M1096.3,882.1V892.1 M1096.3,907.1V910.8" stroke="#0000d4" stroke-width="2.6" fill="none"/>
<path d="M187.7,104H263.2" stroke="#0000f0" stroke-width="3.9"/>
<path d="M171.9,104 L190.7,96.3 Q187.7,102.5 187.2,104 Q187.7,105.5 190.7,111.7 Z" fill="#0000f0"/>
<path d="M279,104 L260.2,96.3 Q263.2,102.5 263.7,104 Q263.2,105.5 260.2,111.7 Z" fill="#0000f0"/>
<path d="M360.1,879.4H425.2" stroke="#0000f0" stroke-width="3.9"/>
<path d="M344.3,879.4 L363.1,871.7 Q360.1,877.9 359.6,879.4 Q360.1,880.9 363.1,887.1 Z" fill="#0000f0"/>
<path d="M441,879.4 L422.2,871.7 Q425.2,877.9 425.7,879.4 Q425.2,880.9 422.2,887.1 Z" fill="#0000f0"/>
<path d="M990.1,393.6H1038.2" stroke="#0000f0" stroke-width="3.9"/>
<path d="M974.3,393.6 L993.1,385.9 Q990.1,392.1 989.6,393.6 Q990.1,395.1 993.1,401.3 Z" fill="#0000f0"/>
<path d="M1054,393.6 L1035.2,385.9 Q1038.2,392.1 1038.7,393.6 Q1038.2,395.1 1035.2,401.3 Z" fill="#0000f0"/>
<path d="M961.8,869.5H1010.8" stroke="#0000f0" stroke-width="3.9"/>
<path d="M946,869.5 L964.8,861.8 Q961.8,868 961.3,869.5 Q961.8,871 964.8,877.2 Z" fill="#0000f0"/>
<path d="M1026.6,869.5 L1007.8,861.8 Q1010.8,868 1011.3,869.5 Q1010.8,871 1007.8,877.2 Z" fill="#0000f0"/>
<g font-size="29" fill="#000">
<text transform="translate(24.2,252.9) rotate(-90)" text-anchor="middle">Force (pN)</text>
<text transform="translate(22.1,737) rotate(-90)" text-anchor="middle">Force (pN)</text>
<text transform="translate(717.6,256.6) rotate(-90)" font-size="29.2" text-anchor="middle">Norm. water density</text>
<text transform="translate(719.9,741.9) rotate(-90)" font-size="29.2" text-anchor="middle">Norm. water density</text>
<text x="372.3" y="980.7" font-size="29.2" text-anchor="middle">Tip-sample distance (nm)</text>
<text x="1036.4" y="987.1" font-size="29.2" text-anchor="middle">Distance from surface (nm)</text>
<text x="586.4" y="128.9" font-size="30" text-anchor="middle">T</text>
<text x="1250.1" y="128.9" font-size="30" text-anchor="middle">T</text>
<text x="576.6" y="611.7" font-size="30">B<tspan font-size="21" dx="0.7">I</tspan></text>
<text x="1239.7" y="611.8" font-size="30">B</text>
</g>
<g font-size="29" fill="#1414d2" text-anchor="middle">
<text x="172.3" y="65.1">2</text>
<text x="279.2" y="65.1">3</text>
<text x="379.5" y="65.1">4</text>
<text x="336.1" y="553.6">2</text>
<text x="437.9" y="553.6">3</text>
<text x="534.5" y="553.6">4</text>
<text x="973.8" y="62.6">2</text>
<text x="1053.8" y="62.6">3</text>
<text x="1123.3" y="62.6">4</text>
<text x="945.8" y="548.7">2</text>
<text x="1026.3" y="548.7">3</text>
<text x="1094.5" y="548.7">4</text>
</g>
<path d="M383 0L295 0L295 505L124 505L124 569C214 574 272 606 297 709L383 709Z" transform="translate(851.94,548.7) scale(0.0290,-0.0290)" fill="#1414d2"/>
<g font-size="29" fill="#1414d2">
<path d="M383 0L295 0L295 505L124 505L124 569C214 574 272 606 297 709L383 709Z" transform="translate(843.5,62.7) scale(0.0290,-0.0290)" fill="#1414d2"/>
<path d="M383 0L295 0L295 505L124 505L124 569C214 574 272 606 297 709L383 709Z" transform="translate(871.1,64.5) scale(0.0290,-0.0290)" fill="#1414d2"/>
<text x="859.8" y="71.5" font-size="21.5">L</text>
<text x="887.6" y="72.8" font-size="22">H</text>
</g>
</svg></body></html>
